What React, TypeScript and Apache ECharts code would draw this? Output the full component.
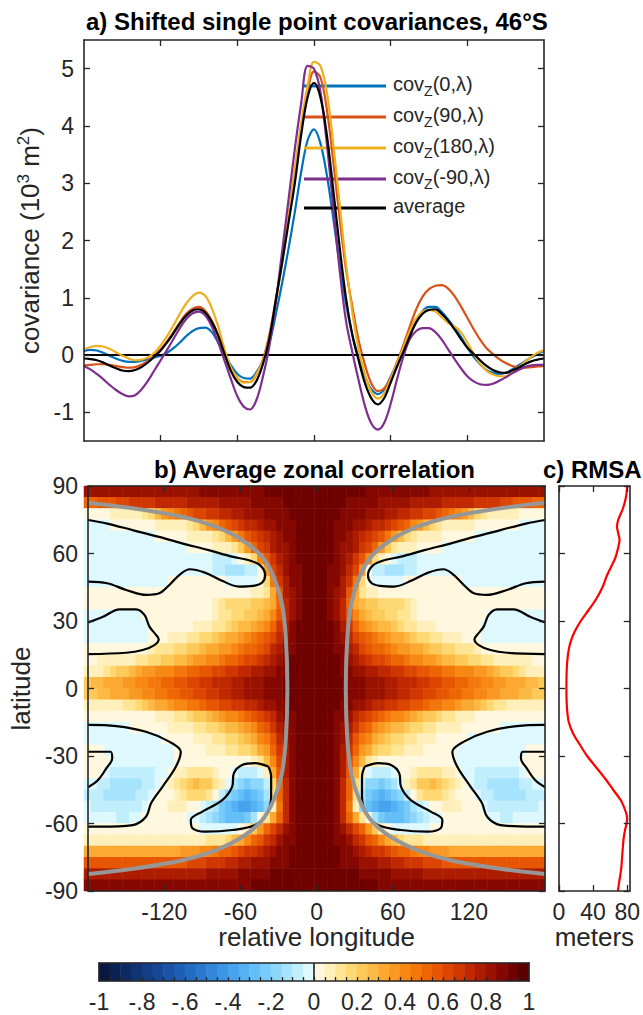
import React, { useEffect, useRef } from "react";
import * as echarts from "echarts";

const FONT = "'Liberation Sans', Arial, Helvetica, sans-serif";
const INK = "#262626";

// ---------- Panel a: shifted single point covariances (10^3 m^2) ----------
const LON = Array.from({ length: 73 }, (_, i) => -180 + 5 * i);
const COV_0 = [0.07,0.09,0.08,0.04,-0.01,-0.06,-0.10,-0.12,-0.12,-0.10,-0.07,-0.04,-0.01,0.04,0.12,0.22,0.33,0.42,0.47,0.48,0.40,0.22,0.02,-0.18,-0.33,-0.40,-0.41,-0.30,-0.10,0.20,0.70,1.25,1.85,2.5,3.2,3.75,3.94,3.7,3.15,2.4,1.6,0.9,0.35,-0.05,-0.38,-0.6,-0.68,-0.6,-0.38,-0.15,0.07,0.35,0.6,0.77,0.84,0.84,0.75,0.62,0.48,0.32,0.13,-0.03,-0.16,-0.26,-0.31,-0.33,-0.31,-0.25,-0.18,-0.11,-0.04,0.02,0.07];
const COV_90 = [-0.18,-0.17,-0.16,-0.16,-0.17,-0.19,-0.21,-0.22,-0.21,-0.17,-0.10,-0.01,0.10,0.24,0.40,0.57,0.72,0.81,0.84,0.77,0.60,0.35,0.02,-0.25,-0.40,-0.47,-0.47,-0.34,-0.08,0.35,0.95,1.65,2.4,3.2,4.0,4.6,4.95,4.85,4.3,3.4,2.4,1.5,0.85,0.25,-0.18,-0.5,-0.63,-0.58,-0.4,-0.12,0.18,0.5,0.8,1.02,1.15,1.21,1.22,1.16,1.03,0.85,0.65,0.45,0.27,0.12,0.02,-0.07,-0.14,-0.19,-0.21,-0.22,-0.21,-0.2,-0.19];
const COV_180 = [0.10,0.14,0.16,0.15,0.11,0.05,-0.01,-0.06,-0.09,-0.08,-0.04,0.04,0.17,0.33,0.52,0.72,0.90,1.03,1.09,1.03,0.82,0.50,0.10,-0.22,-0.40,-0.48,-0.47,-0.33,-0.10,0.30,0.90,1.6,2.4,3.25,4.05,4.7,5.12,5.05,4.6,3.7,2.65,1.6,0.75,0.1,-0.35,-0.65,-0.76,-0.67,-0.42,-0.14,0.14,0.42,0.64,0.76,0.79,0.76,0.66,0.56,0.50,0.40,0.22,0.02,-0.15,-0.27,-0.34,-0.37,-0.37,-0.31,-0.22,-0.12,-0.03,0.04,0.09];
const COV_M90 = [-0.19,-0.25,-0.33,-0.42,-0.52,-0.61,-0.68,-0.72,-0.70,-0.60,-0.45,-0.27,-0.09,0.09,0.28,0.47,0.63,0.73,0.76,0.69,0.50,0.22,-0.10,-0.42,-0.72,-0.90,-0.95,-0.78,-0.38,0.15,0.9,1.8,2.7,3.6,4.4,5.05,5.0,4.6,3.7,2.6,1.5,0.6,0.05,-0.45,-0.9,-1.2,-1.3,-1.18,-0.85,-0.42,-0.02,0.28,0.42,0.47,0.47,0.40,0.27,0.10,-0.07,-0.23,-0.37,-0.46,-0.51,-0.52,-0.50,-0.45,-0.39,-0.32,-0.26,-0.21,-0.18,-0.17,-0.17];
const COV_AVG = [-0.06,-0.07,-0.09,-0.13,-0.18,-0.23,-0.27,-0.28,-0.26,-0.21,-0.13,-0.03,0.08,0.22,0.38,0.55,0.69,0.78,0.80,0.74,0.58,0.34,0.02,-0.28,-0.47,-0.56,-0.57,-0.45,-0.16,0.28,0.95,1.6,2.3,3.0,3.85,4.5,4.75,4.5,3.85,2.9,1.9,1.0,0.35,-0.1,-0.5,-0.76,-0.86,-0.75,-0.48,-0.2,0.06,0.33,0.57,0.72,0.79,0.80,0.72,0.6,0.45,0.28,0.13,0.02,-0.09,-0.19,-0.26,-0.30,-0.31,-0.27,-0.22,-0.16,-0.11,-0.08,-0.06];
const COV_NAMES = ["cov_Z(0,λ)", "cov_Z(90,λ)", "cov_Z(180,λ)", "cov_Z(-90,λ)", "average"];
const COV_COLORS = ["#0072BD", "#D95319", "#EDB120", "#7E2F8E", "#000000"];
const COV_SERIES = [COV_0, COV_90, COV_180, COV_M90, COV_AVG];
const COV_TICKS = [-1, 0, 1, 2, 3, 4, 5];
const LON_TICKS = [-120, -60, 0, 60, 120];

// ---------- Panel b: average zonal correlation (symmetric in relative longitude) ----------
const LON_CENTERS = Array.from({ length: 72 }, (_, i) => -177.5 + 5 * i);
const LAT_CENTERS = Array.from({ length: 36 }, (_, i) => -87.5 + 5 * i);
const HALF_LON = Array.from({ length: 36 }, (_, i) => 2.5 + 5 * i);
const FIELD_LATS = [87.5,82.5,77.5,72.5,67.5,62.5,57.5,52.5,47.5,42.5,37.5,32.5,27.5,22.5,17.5,12.5,7.5,2.5,-2.5,-7.5,-12.5,-17.5,-22.5,-27.5,-32.5,-37.5,-42.5,-47.5,-52.5,-57.5,-62.5,-67.5,-72.5,-77.5,-82.5,-87.5];
const FIELD = [
  [0.92,0.92,0.92,0.91,0.91,0.9, 0.9,0.9,0.89,0.89,0.88,0.88, 0.87,0.87,0.86,0.86,0.85,0.85, 0.84,0.84,0.83,0.83,0.82,0.82, 0.81,0.81,0.81,0.8,0.8,0.8, 0.8,0.8,0.8,0.8,0.8,0.8],
  [0.92,0.92,0.91,0.9,0.9,0.89, 0.88,0.87,0.86,0.85,0.84,0.83, 0.82,0.81,0.8,0.79,0.78,0.77, 0.76,0.75,0.74,0.73,0.72,0.71, 0.7,0.69,0.68,0.67,0.65,0.63, 0.61,0.59,0.57,0.55,0.53,0.52],
  [0.92,0.92,0.91,0.9,0.89,0.88, 0.87,0.86,0.84,0.82,0.8,0.78, 0.76,0.74,0.72,0.69,0.66,0.63, 0.6,0.56,0.52,0.48,0.43,0.37, 0.28,0.18,0.12,0.09,0.07,0.06, 0.05,0.05,0.04,0.04,0.04,0.04],
  [0.92,0.92,0.91,0.89,0.88,0.86, 0.84,0.81,0.78,0.74,0.7,0.65, 0.6,0.55,0.5,0.44,0.37,0.28, 0.18,0.12,0.09,0.07,0.06,0.05, 0.05,0.04,0.04,0.03,0.03,0.02, 0.01,0.0,-0.02,-0.03,-0.04,-0.04],
  [0.92,0.92,0.9,0.88,0.85,0.82, 0.78,0.73,0.68,0.62,0.55,0.47, 0.37,0.25,0.15,0.1,0.07,0.06, 0.05,0.05,0.04,0.04,0.03,0.02, 0.01,-0.01,-0.03,-0.04,-0.04,-0.04, -0.04,-0.04,-0.04,-0.04,-0.04,-0.04],
  [0.92,0.92,0.9,0.87,0.84,0.8, 0.75,0.68,0.6,0.5,0.36,0.2, 0.11,0.07,0.06,0.05,0.04,0.03, 0.02,0.0,-0.02,-0.03,-0.04,-0.04, -0.04,-0.04,-0.04,-0.04,-0.04,-0.04, -0.04,-0.04,-0.04,-0.04,-0.04,-0.04],
  [0.92,0.92,0.9,0.87,0.82,0.76, 0.68,0.58,0.42,0.18,0.05,0.01, -0.05,-0.08,-0.08,-0.06,-0.05,-0.04, -0.04,-0.04,-0.04,-0.04,-0.04,-0.04, -0.04,-0.04,-0.04,-0.04,-0.04,-0.04, -0.04,-0.04,-0.04,-0.04,-0.04,-0.04],
  [0.92,0.91,0.89,0.85,0.8,0.72, 0.6,0.38,0.04,-0.06,-0.1,-0.12, -0.12,-0.11,-0.09,-0.06,-0.04,-0.03, -0.02,-0.01,-0.01,-0.02,-0.03,-0.04, -0.04,-0.04,-0.04,-0.04,-0.04,-0.04, -0.04,-0.04,-0.04,-0.04,-0.04,-0.04],
  [0.92,0.91,0.89,0.85,0.78,0.68, 0.48,0.18,0.03,-0.02,-0.03,-0.03, -0.02,-0.01,0.0,0.02,0.03,0.03, 0.03,0.02,0.01,0.01,0.0,-0.02, -0.03,-0.03,-0.03,-0.03,-0.03,-0.03, -0.03,-0.02,-0.02,-0.01,-0.01,-0.01],
  [0.92,0.91,0.89,0.84,0.75,0.58, 0.33,0.12,0.08,0.05,0.04,0.04, 0.04,0.04,0.04,0.04,0.04,0.04, 0.04,0.04,0.04,0.04,0.04,0.03, 0.01,0.0,0.0,0.0,0.0,0.01, 0.02,0.02,0.01,0.01,0.01,0.01],
  [0.92,0.91,0.89,0.84,0.74,0.54, 0.34,0.27,0.22,0.2,0.19,0.18, 0.17,0.15,0.11,0.06,0.04,0.04, 0.04,0.04,0.04,0.04,0.04,0.04, 0.04,0.04,0.04,0.03,0.02,0.02, 0.02,0.03,0.04,0.04,0.04,0.04],
  [0.92,0.91,0.89,0.84,0.74,0.56, 0.4,0.3,0.25,0.22,0.2,0.18, 0.16,0.14,0.1,0.06,0.04,0.04, 0.04,0.04,0.04,0.04,0.04,0.04, 0.03,0.02,0.0,-0.03,-0.04,-0.04, -0.04,-0.04,-0.03,-0.02,-0.02,-0.02],
  [0.92,0.91,0.9,0.86,0.78,0.65, 0.52,0.44,0.38,0.32,0.28,0.25, 0.22,0.18,0.14,0.11,0.08,0.06, 0.05,0.04,0.04,0.04,0.04,0.04, 0.03,0.01,-0.02,-0.04,-0.04,-0.04, -0.04,-0.04,-0.04,-0.04,-0.04,-0.03],
  [0.92,0.91,0.9,0.88,0.82,0.73, 0.62,0.55,0.5,0.45,0.41,0.38, 0.34,0.3,0.26,0.22,0.19,0.16, 0.13,0.1,0.08,0.07,0.05,0.04, 0.03,0.0,-0.04,-0.04,-0.04,-0.04, -0.04,-0.04,-0.04,-0.04,-0.04,-0.04],
  [0.92,0.92,0.91,0.89,0.85,0.78, 0.7,0.64,0.59,0.54,0.5,0.46, 0.42,0.39,0.36,0.33,0.3,0.27, 0.24,0.21,0.18,0.16,0.14,0.12, 0.1,0.07,0.04,0.02,0.01,0.0, 0.0,0.0,0.0,0.0,0.0,0.0],
  [0.92,0.92,0.91,0.9,0.87,0.82, 0.76,0.72,0.68,0.64,0.6,0.57, 0.54,0.5,0.47,0.44,0.41,0.38, 0.35,0.32,0.29,0.26,0.23,0.2, 0.18,0.15,0.13,0.11,0.09,0.08, 0.07,0.06,0.05,0.05,0.04,0.04],
  [0.92,0.92,0.91,0.9,0.89,0.87, 0.84,0.81,0.78,0.76,0.73,0.71, 0.68,0.66,0.63,0.61,0.58,0.56, 0.53,0.51,0.49,0.47,0.44,0.42, 0.4,0.38,0.35,0.32,0.28,0.24, 0.2,0.15,0.1,0.07,0.05,0.05],
  [0.92,0.92,0.92,0.91,0.9,0.89, 0.88,0.86,0.84,0.82,0.8,0.78, 0.76,0.74,0.72,0.7,0.67,0.65, 0.62,0.6,0.58,0.55,0.53,0.5, 0.48,0.46,0.43,0.41,0.39,0.37, 0.34,0.32,0.3,0.28,0.26,0.24],
  [0.92,0.92,0.92,0.91,0.9,0.89, 0.88,0.86,0.84,0.82,0.8,0.78, 0.76,0.74,0.71,0.69,0.66,0.63, 0.6,0.58,0.55,0.53,0.5,0.48, 0.46,0.44,0.41,0.39,0.37,0.34, 0.32,0.3,0.28,0.26,0.24,0.22],
  [0.92,0.92,0.91,0.9,0.89,0.87, 0.84,0.8,0.77,0.74,0.72,0.69, 0.66,0.63,0.6,0.58,0.55,0.52, 0.49,0.46,0.43,0.4,0.37,0.34, 0.3,0.26,0.22,0.18,0.14,0.1, 0.08,0.06,0.05,0.05,0.05,0.05],
  [0.92,0.92,0.91,0.89,0.86,0.8, 0.74,0.68,0.63,0.58,0.53,0.48, 0.44,0.4,0.36,0.32,0.28,0.24, 0.2,0.17,0.14,0.11,0.08,0.06, 0.05,0.04,0.04,0.04,0.04,0.04, 0.04,0.04,0.04,0.04,0.04,0.04],
  [0.92,0.92,0.91,0.88,0.83,0.75, 0.66,0.58,0.5,0.44,0.38,0.33, 0.29,0.25,0.22,0.19,0.16,0.13, 0.11,0.09,0.07,0.06,0.05,0.04, 0.04,0.04,0.03,0.02,0.0,-0.02, -0.03,-0.04,-0.04,-0.04,-0.04,-0.04],
  [0.92,0.92,0.91,0.87,0.81,0.7, 0.58,0.48,0.4,0.34,0.28,0.23, 0.19,0.15,0.12,0.1,0.08,0.06, 0.05,0.04,0.04,0.04,0.03,0.02, -0.01,-0.03,-0.04,-0.05,-0.05,-0.05, -0.05,-0.05,-0.05,-0.05,-0.05,-0.05],
  [0.92,0.92,0.9,0.86,0.79,0.65, 0.5,0.38,0.3,0.24,0.19,0.15, 0.12,0.1,0.08,0.06,0.05,0.04, 0.04,0.04,0.03,0.01,-0.02,-0.04, -0.05,-0.05,-0.05,-0.05,-0.05,-0.05, -0.05,-0.04,-0.02,0.0,0.01,0.01],
  [0.92,0.92,0.9,0.86,0.77,0.6, 0.4,0.25,0.12,0.06,0.04,0.03, 0.03,0.04,0.04,0.04,0.04,0.04, 0.04,0.04,0.03,0.01,-0.02,-0.04, -0.05,-0.05,-0.05,-0.05,-0.05,-0.05, -0.05,-0.03,0.01,0.03,0.04,0.04],
  [0.92,0.92,0.9,0.86,0.75,0.55, 0.3,0.05,-0.04,-0.08,-0.1,-0.09, -0.05,0.0,0.04,0.08,0.1,0.12, 0.12,0.1,0.08,0.05,0.01,-0.03, -0.05,-0.06,-0.08,-0.09,-0.1,-0.1, -0.09,-0.06,-0.02,0.02,0.03,0.03],
  [0.92,0.92,0.9,0.85,0.73,0.5, 0.15,-0.1,-0.16,-0.2,-0.22,-0.2, -0.15,-0.05,0.05,0.14,0.2,0.23, 0.25,0.23,0.18,0.12,0.05,0.0, -0.04,-0.07,-0.09,-0.11,-0.12,-0.12, -0.12,-0.11,-0.09,-0.06,-0.03,-0.01],
  [0.92,0.92,0.9,0.85,0.73,0.5, 0.12,-0.15,-0.25,-0.3,-0.32,-0.3, -0.25,-0.18,-0.08,0.04,0.12,0.16, 0.18,0.16,0.12,0.07,0.04,0.02, 0.0,-0.04,-0.08,-0.1,-0.12,-0.13, -0.13,-0.13,-0.12,-0.1,-0.08,-0.07],
  [0.92,0.92,0.9,0.85,0.72,0.45, 0.08,-0.2,-0.3,-0.34,-0.36,-0.36, -0.35,-0.3,-0.22,-0.13,-0.06,-0.02, 0.02,0.04,0.05,0.05,0.05,0.04, 0.03,0.01,-0.03,-0.06,-0.08,-0.1, -0.1,-0.09,-0.08,-0.07,-0.06,-0.05],
  [0.92,0.92,0.9,0.85,0.73,0.5, 0.3,0.12,0.0,-0.15,-0.22,-0.28, -0.3,-0.28,-0.25,-0.2,-0.15,-0.1, -0.05,-0.01,0.03,0.04,0.04,0.04, 0.04,0.03,0.0,-0.03,-0.05,-0.06, -0.06,-0.05,-0.05,-0.04,-0.04,-0.04],
  [0.92,0.92,0.91,0.88,0.82,0.72, 0.62,0.5,0.38,0.2,0.05,0.0, -0.02,-0.03,-0.03,-0.02,-0.02,-0.01, 0.0,0.01,0.02,0.03,0.03,0.03, 0.03,0.03,0.03,0.03,0.03,0.03, 0.03,0.03,0.03,0.03,0.03,0.03],
  [0.92,0.92,0.91,0.89,0.85,0.8, 0.73,0.65,0.58,0.5,0.42,0.33, 0.25,0.18,0.14,0.12,0.1,0.09, 0.08,0.08,0.08,0.08,0.08,0.08, 0.08,0.08,0.08,0.08,0.08,0.08, 0.08,0.08,0.08,0.08,0.08,0.08],
  [0.92,0.92,0.91,0.9,0.88,0.85, 0.81,0.77,0.73,0.69,0.65,0.61, 0.57,0.53,0.5,0.46,0.43,0.4, 0.38,0.36,0.35,0.34,0.33,0.33, 0.33,0.33,0.33,0.33,0.33,0.33, 0.33,0.33,0.33,0.33,0.33,0.33],
  [0.92,0.92,0.91,0.9,0.89,0.88, 0.86,0.84,0.82,0.8,0.78,0.76, 0.73,0.71,0.69,0.67,0.65,0.63, 0.62,0.6,0.59,0.58,0.57,0.56, 0.56,0.55,0.55,0.55,0.55,0.55, 0.55,0.55,0.55,0.55,0.55,0.55],
  [0.92,0.92,0.92,0.91,0.91,0.9, 0.9,0.89,0.88,0.87,0.86,0.85, 0.84,0.83,0.82,0.81,0.8,0.79, 0.79,0.78,0.78,0.77,0.77,0.76, 0.76,0.76,0.75,0.75,0.75,0.75, 0.75,0.75,0.75,0.75,0.75,0.75],
  [0.92,0.92,0.92,0.92,0.91,0.91, 0.91,0.9,0.9,0.9,0.89,0.89, 0.89,0.88,0.88,0.88,0.87,0.87, 0.87,0.86,0.86,0.86,0.85,0.85, 0.85,0.85,0.85,0.85,0.85,0.85, 0.85,0.85,0.85,0.85,0.85,0.85],
];
// zero-correlation contours, eastern half [relative longitude, latitude]
const CONTOUR_NORTH = [[180,74.9],[165,73.3],[145,70.4],[125,67.5],[106,64.5],[85,61.5],[66.5,58.6],[52,56.8],[44,54.5],[40.5,50.4],[43,47],[50,45.6],[61,45.3],[75,48],[88,51.5],[100,53],[108,50.5],[116,46],[124,42.3],[134,41.6],[150,43.8],[165,46.8],[180,47.5]];
const CONTOUR_MID = [[180,29.4],[168.3,31.9],[155.2,35.2],[142.2,35.2],[135.6,32.7],[131.7,27.5],[126.5,23.8],[124.4,21.9],[127.8,19.3],[137,17.1],[150,15.9],[180,15.3]];
const CONTOUR_SOUTH = [[180,-16.2],[157.8,-16.7],[134.4,-19.2],[116.1,-23.6],[107,-28.1],[110.9,-34.8],[121.3,-43.6],[130.4,-51],[134.4,-57],[144.8,-60.7],[170.9,-61.4],[180,-61.4]];
const CONTOUR_INNER = [[180,-28.1],[162.5,-28.1],[161,-31],[165.7,-35.5],[172.2,-40.7],[180,-43.9]];
const CONTOUR_BLOB = [[37.8,-34.8],[48.3,-33.2],[58.7,-34],[65.2,-37.7],[66.5,-43.6],[74.3,-49.6],[90,-54.7],[99.1,-58.4],[97.8,-62.1],[87.4,-63.6],[66.5,-62.9],[48.3,-60.7],[39.1,-55.5],[35.8,-48.1],[35.8,-39.2],[37.8,-34.8]];
const CONTOURS_EAST = [CONTOUR_NORTH, CONTOUR_MID, CONTOUR_SOUTH, CONTOUR_INNER, CONTOUR_BLOB];
// gray reference curve, eastern half
const GRAY_EAST = [[180,82.6],[144.8,80.1],[105.6,76.3],[79.6,71.9],[58.7,66],[43,58.6],[33.9,49.7],[27.4,37.9],[24.3,23.1],[23,0],[24.3,-23.1],[27.4,-37.9],[33.9,-49.7],[43,-58.6],[58.7,-66],[79.6,-71.9],[105.6,-76.3],[144.8,-80.1],[180,-82.4]];
const LAT_TICKS = [-90, -60, -30, 0, 30, 60, 90];

// ---------- Panel c: RMSA (meters) ----------
const RMSA_LAT = [90,85,80,75,72,69,66,62,58,54,50,45,40,35,30,25,20,15,10,5,0,-5,-10,-15,-20,-25,-30,-35,-40,-45,-50,-55,-58,-62,-66,-70,-75,-80,-85,-90];
const RMSA_M = [80,78.5,75,69.5,68,69.5,71,69,66,61,56,51,44,35,25.5,18,13,10.5,9.3,8.8,8.7,8.9,9.6,11.5,16.5,24.5,33,43.5,54,63.5,73,78.5,80,78,76,75,74,73,71,69];
const RMSA_TICKS = [0, 40, 80];

// ---------- Colour scale ----------
const CMAP = [
  "#08183f","#0b2152","#0e2a64","#113475","#143e86","#174896","#1a53a6","#1e5fb5","#236bc3","#2a79d0",
  "#3287db","#3b95e5","#46a3ed","#54b1f3","#64bef7","#77cbfa","#8dd7fb","#a6e3fc","#c0eefd","#ddf9fe",
  "#fff8df","#ffefba","#ffe594","#fed872","#fdc958","#fcb943","#fba931","#f99822","#f78814","#f3770a",
  "#ee6604","#e75602","#dd4601","#d03700","#c02900","#ae1c00","#9a1100","#850800","#6f0200","#590000",
];
const CB_LABEL_VALUES = [-1, -0.8, -0.6, -0.4, -0.2, 0, 0.2, 0.4, 0.6, 0.8, 1];
const CB_LABELS = ["-1", "-.8", "-.6", "-.4", "-.2", "0", "0.2", "0.4", "0.6", "0.8", "1"];

function buildOption() {
  const lbl = { color: INK, fontFamily: FONT, fontSize: 23 };
  const line = { show: true, onZero: false, lineStyle: { color: INK, width: 1.6 } };
  const tick = (vals: number[] | undefined, len = 6) => ({
    show: true, inside: true, length: len, lineStyle: { color: INK, width: 1.3 },
    ...(vals ? { customValues: vals } : {}),
  });
  const vAxis = (o: any) => ({
    type: "value",
    gridIndex: o.grid,
    min: o.min,
    max: o.max,
    position: o.position,
    z: 10,
    axisLine: line,
    axisTick: tick(o.ticks, o.tickLen),
    axisLabel: o.labels
      ? { show: true, ...lbl, margin: o.margin ?? 10, customValues: o.labels, formatter: o.formatter }
      : { show: false },
    splitLine: { show: false },
    ...(o.name
      ? {
          name: o.name,
          nameLocation: "middle",
          nameGap: o.nameGap,
          nameRotate: o.nameRotate,
          nameTextStyle: { color: INK, fontFamily: FONT, fontSize: 26, rich: o.rich },
        }
      : {}),
  });
  const hidden = (grid: number, data: any[]) => ({ type: "category", gridIndex: grid, data, show: false });

  const cbCells = CMAP.map((_, i) => i);
  const cbMinor = Array.from({ length: 39 }, (_, i) => +(-0.95 + i * 0.05).toFixed(2));

  const xAxis = [
    vAxis({ grid: 0, min: -180, max: 180, position: "bottom", ticks: LON_TICKS }),
    vAxis({ grid: 0, min: -180, max: 180, position: "top", ticks: LON_TICKS }),
    hidden(1, LON_CENTERS),
    vAxis({ grid: 2, min: -180, max: 180, position: "bottom", ticks: LON_TICKS, labels: LON_TICKS, margin: 9, name: "relative longitude", nameGap: 33 }),
    vAxis({ grid: 2, min: -180, max: 180, position: "top", ticks: LON_TICKS }),
    vAxis({ grid: 3, min: 0, max: 83, position: "bottom", ticks: RMSA_TICKS, labels: RMSA_TICKS, margin: 9, name: "meters", nameGap: 33 }),
    vAxis({ grid: 3, min: 0, max: 83, position: "top", ticks: RMSA_TICKS }),
    hidden(4, cbCells),
    vAxis({
      grid: 5, min: -1, max: 1, position: "bottom", ticks: cbMinor, tickLen: 4, labels: CB_LABEL_VALUES, margin: 9,
      formatter: (v: number) => {
        const i = CB_LABEL_VALUES.findIndex((x) => Math.abs(x - v) < 1e-6);
        return i >= 0 ? CB_LABELS[i] : "";
      },
    }),
    vAxis({ grid: 5, min: -1, max: 1, position: "top", ticks: [] }),
  ];
  const yAxis = [
    vAxis({
      grid: 0, min: -1.5, max: 5.5, position: "left", ticks: COV_TICKS, labels: COV_TICKS, margin: 10,
      name: "{a|covariance (10}{p|3}{a| m}{p|2}{a|)}", nameGap: 36, nameRotate: 90,
      rich: {
        a: { fontSize: 26, fontFamily: FONT, color: INK, lineHeight: 30 },
        p: { fontSize: 17, fontFamily: FONT, color: INK, verticalAlign: "top", lineHeight: 20 },
      },
    }),
    vAxis({ grid: 0, min: -1.5, max: 5.5, position: "right", ticks: COV_TICKS }),
    hidden(1, LAT_CENTERS),
    vAxis({ grid: 2, min: -90, max: 90, position: "left", ticks: LAT_TICKS, labels: LAT_TICKS, margin: 10, name: "latitude", nameGap: 47, nameRotate: 90 }),
    vAxis({ grid: 2, min: -90, max: 90, position: "right", ticks: LAT_TICKS }),
    vAxis({ grid: 3, min: -90, max: 90, position: "left", ticks: LAT_TICKS }),
    vAxis({ grid: 3, min: -90, max: 90, position: "right", ticks: LAT_TICKS }),
    hidden(4, ["cb"]),
    vAxis({ grid: 5, min: 0, max: 1, position: "left", ticks: [] }),
    vAxis({ grid: 5, min: 0, max: 1, position: "right", ticks: [] }),
  ];

  const series: any[] = [];
  COV_SERIES.forEach((vals, k) => {
    const s: any = {
      name: COV_NAMES[k],
      type: "line",
      xAxisIndex: 0,
      yAxisIndex: 0,
      data: LON.map((x, i) => [x, vals[i]]),
      showSymbol: false,
      symbol: "none",
      smooth: 0.35,
      lineStyle: { color: COV_COLORS[k], width: 2.2 },
      itemStyle: { color: COV_COLORS[k] },
      z: 3 + k,
      silent: true,
    };
    if (k === 4) {
      s.markLine = {
        silent: true,
        symbol: ["none", "none"],
        label: { show: false },
        lineStyle: { color: "#000", width: 2.2, type: "solid" },
        data: [{ yAxis: 0 }],
      };
    }
    series.push(s);
  });

  const heatData: any[] = [];
  FIELD.forEach((row, r) => {
    const yi = LAT_CENTERS.indexOf(FIELD_LATS[r]);
    row.forEach((v, c) => {
      heatData.push([LON_CENTERS.indexOf(HALF_LON[c]), yi, v]);
      heatData.push([LON_CENTERS.indexOf(-HALF_LON[c]), yi, v]);
    });
  });
  const heatIndex = series.length;
  series.push({
    name: "correlation",
    type: "heatmap",
    xAxisIndex: 2,
    yAxisIndex: 2,
    data: heatData,
    itemStyle: { borderWidth: 0 },
    emphasis: { disabled: true },
    progressive: 0,
    silent: true,
    z: 1,
  });

  const contourStyle = (data: number[][], name: string) => ({
    name,
    type: "line",
    xAxisIndex: 3,
    yAxisIndex: 3,
    data,
    showSymbol: false,
    symbol: "none",
    smooth: 0.35,
    lineStyle: { color: "#000", width: 2.2 },
    silent: true,
    z: 4,
  });
  CONTOURS_EAST.forEach((ct, k) => {
    series.push(contourStyle(ct, "zero contour " + k + " east"));
    series.push(contourStyle(ct.map(([x, y]) => [-x, y]), "zero contour " + k + " west"));
  });
  [GRAY_EAST, GRAY_EAST.map(([x, y]) => [-x, y])].forEach((g, k) => {
    series.push({
      name: "gray curve " + k,
      type: "line",
      xAxisIndex: 3,
      yAxisIndex: 3,
      data: g,
      showSymbol: false,
      symbol: "none",
      smooth: 0.3,
      lineStyle: { color: "#979797", width: 4 },
      silent: true,
      z: 5,
    });
  });

  series.push({
    name: "RMSA",
    type: "line",
    xAxisIndex: 5,
    yAxisIndex: 5,
    data: RMSA_LAT.map((lat, i) => [RMSA_M[i], lat]),
    showSymbol: false,
    symbol: "none",
    smooth: 0.3,
    lineStyle: { color: "#ff0000", width: 2.2 },
    silent: true,
  });

  const cbIndex = series.length;
  series.push({
    name: "colorbar",
    type: "heatmap",
    xAxisIndex: 7,
    yAxisIndex: 7,
    data: cbCells.map((i) => [i, 0, +(-0.975 + i * 0.05).toFixed(3)]),
    itemStyle: { borderWidth: 0 },
    emphasis: { disabled: true },
    silent: true,
    z: 1,
  });
  series.push({
    name: "colorbar zero",
    type: "line",
    xAxisIndex: 8,
    yAxisIndex: 8,
    data: [],
    silent: true,
    z: 5,
    markLine: {
      silent: true,
      symbol: ["none", "none"],
      label: { show: false },
      lineStyle: { color: "#111", width: 1.5, type: "solid" },
      data: [{ xAxis: 0 }],
    },
  });

  const pieces = CMAP.map((color, i) => {
    const lo = +(-1 + i * 0.05).toFixed(2);
    const hi = +(-1 + (i + 1) * 0.05).toFixed(2);
    return i === CMAP.length - 1 ? { gte: lo, lte: hi, color } : { gte: lo, lt: hi, color };
  });

  const titleStyle = { color: "#000", fontFamily: FONT, fontSize: 24, fontWeight: "bold" as const };

  return {
    animation: false,
    backgroundColor: "#ffffff",
    textStyle: { fontFamily: FONT },
    title: [
      { text: "a) Shifted single point covariances, 46°S", left: 86, top: 9, padding: 0, textStyle: titleStyle },
      { text: "b) Average zonal correlation", left: 154, top: 457, padding: 0, textStyle: titleStyle },
      { text: "c) RMSA", left: 543, top: 457, padding: 0, textStyle: titleStyle },
    ],
    legend: {
      data: COV_NAMES,
      orient: "vertical",
      left: 304,
      top: 72,
      padding: 0,
      itemGap: 5,
      itemWidth: 82,
      itemHeight: 3,
      icon: "rect",
      selectedMode: false,
      formatter: (name: string) =>
        name.startsWith("cov_Z") ? `{a|cov}{s|Z}{a|${name.slice(5)}}` : `{a|${name}}`,
      textStyle: {
        color: INK,
        fontFamily: FONT,
        fontSize: 20,
        padding: [0, 0, 0, 2],
        rich: {
          a: { fontSize: 20, fontFamily: FONT, color: INK, lineHeight: 24, verticalAlign: "top" },
          s: { fontSize: 14, fontFamily: FONT, color: INK, lineHeight: 16, padding: [12, 0, 0, 0], verticalAlign: "bottom" },
        },
      },
    },
    visualMap: {
      type: "piecewise",
      show: false,
      seriesIndex: [heatIndex, cbIndex],
      dimension: 2,
      pieces,
    },
    grid: [
      { left: 84, top: 40, width: 460, height: 401 },
      { left: 84, top: 486, width: 461, height: 405 },
      { left: 84, top: 486, width: 461, height: 405 },
      { left: 559, top: 486, width: 79, height: 405 },
      { left: 99, top: 963, width: 430, height: 18 },
      { left: 99, top: 963, width: 430, height: 18 },
    ],
    xAxis,
    yAxis,
    series,
  };
}

export default function App() {
  const ref = useRef<HTMLDivElement>(null);
  useEffect(() => {
    document.body.style.margin = "0";
    const chart = echarts.init(ref.current!, null, { renderer: "svg" });
    chart.setOption(buildOption() as any);
    return () => chart.dispose();
  }, []);
  return <div ref={ref} style={{ width: 643, height: 1015 }} />;
}
